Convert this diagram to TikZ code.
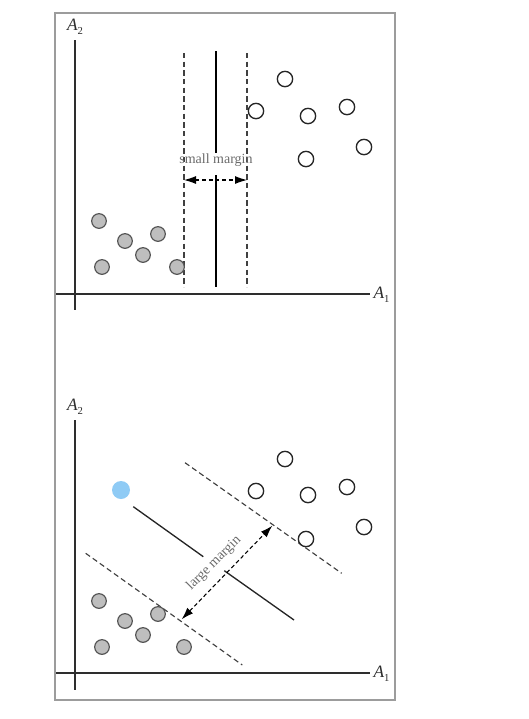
\documentclass[tikz,border=0pt]{standalone}
\usepackage{fontspec}
\setmainfont{Liberation Serif}
\usepackage{xcolor}
\usepackage{tikz}
\usetikzlibrary{arrows.meta,positioning,calc}
\definecolor{SVFrame}{HTML}{9C9C9C}
\definecolor{SVAxis}{HTML}{2E2E2E}
\definecolor{SVGray}{HTML}{BEBEBE}
\definecolor{SVEdge}{HTML}{555555}
\definecolor{SVBlue}{HTML}{8FCBF5}
\definecolor{SVText}{HTML}{6A6A6A}
\newcommand{\attr}[1]{\textit{A}\raisebox{-0.45ex}{\footnotesize #1}}

\begin{document}
\begin{tikzpicture}[
  x=0.75pt,y=-0.75pt,
  axis/.style={draw=SVAxis,line width=1pt},
  tuple/.style={circle,draw=SVEdge,fill=SVGray,line width=0.9pt,minimum size=11pt,inner sep=0pt},
  other/.style={circle,draw=black!85,fill=white,line width=1pt,minimum size=11.5pt,inner sep=0pt},
  query/.style={circle,fill=SVBlue,minimum size=13.5pt,inner sep=0pt},
  hyper/.style={draw=black,line width=1.6pt},
  slope/.style={draw=black!85,line width=1pt},
  bound/.style={draw=black!75,line width=0.85pt,dash pattern=on 4pt off 2.5pt},
  width/.style={draw=black,line width=0.8pt,dash pattern=on 3pt off 2pt,{Latex[length=9pt,width=6pt]}-{Latex[length=9pt,width=6pt]}},
  axlabel/.style={font=\fontsize{13}{15}\selectfont,text=SVAxis,inner sep=1pt},
  note/.style={font=\fontsize{10.5}{12}\selectfont,text=SVText,inner sep=1pt}
]
\useasboundingbox (0,0) rectangle (529,719);
\draw[draw=SVFrame,line width=0.9pt] (55,13) rectangle (395,700);

% small margin
\draw[axis] (75,40) -- (75,310);
\draw[axis] (56,294) -- (370,294);
\node[axlabel] (y1) at (75,27) {\attr{2}};
\node[axlabel,anchor=west] (x1) at (372,295) {\attr{1}};
\draw[hyper] (216,51) -- (216,153);
\draw[hyper] (216,175) -- (216,287);
\draw[bound] (184,53) -- (184,287);
\draw[bound] (247,53) -- (247,287);
\node[note] (sm) at (216,160) {small margin};
\coordinate (sl) at (184,180);
\coordinate (sr) at (247,180);
\draw[width] (sl) -- (sr);
\node[tuple] (g1) at (99,221) {};
\node[tuple] (g2) at (125,241) {};
\node[tuple] (g3) at (158,234) {};
\node[tuple] (g4) at (143,255) {};
\node[tuple] (g5) at (102,267) {};
\node[tuple] (g6) at (177,267) {};
\node[other] (w1) at (285,79) {};
\node[other] (w2) at (256,111) {};
\node[other] (w3) at (308,116) {};
\node[other] (w4) at (347,107) {};
\node[other] (w5) at (306,159) {};
\node[other] (w6) at (364,147) {};

% large margin
\draw[axis] (75,420) -- (75,690);
\draw[axis] (56,673) -- (370,673);
\node[axlabel] (y2) at (75,407) {\attr{2}};
\node[axlabel,anchor=west] (x2) at (372,674) {\attr{1}};
\draw[bound] (185,462.7) -- (341.7,573.3);
\draw[bound] (85.7,553.3) -- (242.3,665);
\draw[slope] (133.3,506.7) -- (203.3,556.7);
\draw[slope] (224.3,570.7) -- (294,620);
\coordinate (ml) at (181.7,619.3);
\coordinate (mu) at (272.3,525.7);
\draw[width] (ml) -- (mu);
\node[note,rotate=45] (lm) at (214,563) {large margin};
\node[query] (q) at (121,490) {};
\node[tuple] (h1) at (99,601) {};
\node[tuple] (h2) at (125,621) {};
\node[tuple] (h3) at (158,614) {};
\node[tuple] (h4) at (143,635) {};
\node[tuple] (h5) at (102,647) {};
\node[tuple] (h6) at (184,647) {};
\node[other] (v1) at (285,459) {};
\node[other] (v2) at (256,491) {};
\node[other] (v3) at (308,495) {};
\node[other] (v4) at (347,487) {};
\node[other] (v5) at (306,539) {};
\node[other] (v6) at (364,527) {};
\end{tikzpicture}
\end{document}
